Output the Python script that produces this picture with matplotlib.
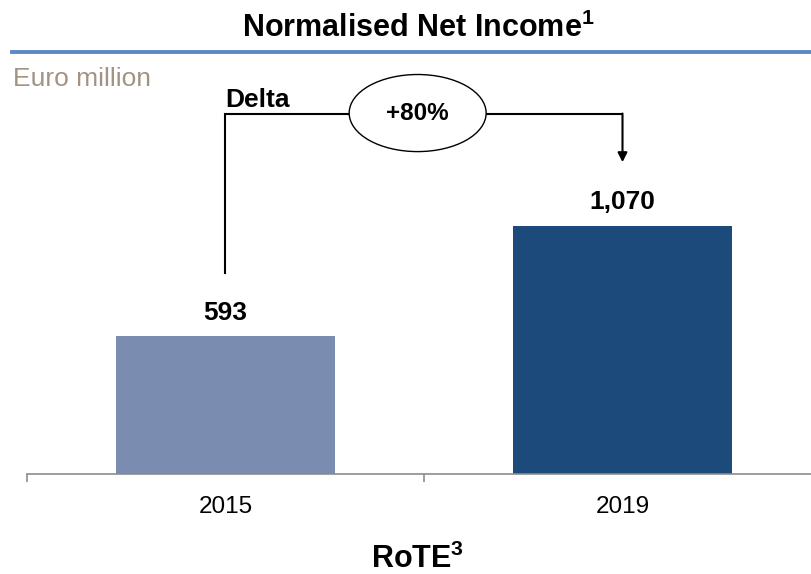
import matplotlib.pyplot as plt
from matplotlib.patches import Ellipse

plt.rcParams['font.family'] = ['Liberation Sans', 'DejaVu Sans']
plt.rcParams['mathtext.fontset'] = 'custom'
plt.rcParams['mathtext.rm'] = 'Liberation Sans'
plt.rcParams['mathtext.bf'] = 'Liberation Sans:bold'

# data
years = ['2015', '2019']
income = [593, 1070]
labels = ['593', '1,070']
delta_txt = '+80%'
bar_colors = ['#7a8cb0', '#1c4a7a']

fig = plt.figure(figsize=(8.12, 5.74), dpi=100)
ax = fig.add_axes([27 / 812, 1 - 473.5 / 574, 785 / 812, 413.5 / 574])

x = list(range(len(years)))
ax.bar(x, income, width=0.554, color=bar_colors, zorder=2)

for xi, v, lab in zip(x, income, labels):
    ax.annotate(lab, (xi, v), xytext=(0, 12), textcoords='offset points',
                ha='center', va='baseline', fontsize=19, fontweight='bold')

ax.set_xlim(-0.5, -0.5 + 785 / 397)
ax.set_ylim(0, 413.5 / 0.2315)

ax.set_xticks(x)
ax.set_xticklabels(years, fontsize=17.5)
ax.set_xticks([-0.5, 0.5], minor=True)
ax.tick_params(axis='x', which='major', length=0, pad=16)
ax.tick_params(axis='x', which='minor', length=6, width=1.2, color='#8c8c8c', direction='out')
ax.set_yticks([])
for s in ['top', 'right', 'left']:
    ax.spines[s].set_visible(False)
ax.spines['bottom'].set_color('#8c8c8c')
ax.spines['bottom'].set_linewidth(1.2)

# delta connector
gap = 275
top = 1551
ax.plot([x[0], x[0], x[1]], [income[0] + gap, top, top], color='black', lw=1.5,
        solid_joinstyle='miter', zorder=3)
ax.annotate('', xy=(x[1], income[1] + gap), xytext=(x[1], top + 4),
            arrowprops=dict(arrowstyle='-|>,head_length=0.55,head_width=0.28',
                            color='black', lw=1.5, shrinkA=0, shrinkB=0), zorder=3)
mid = (x[0] + x[1]) / 2 - 0.016
ax.add_patch(Ellipse((mid, top + 6), 0.345, 333, facecolor='white',
                     edgecolor='black', lw=1, zorder=4))
ax.text(mid, top + 6, delta_txt, ha='center', va='center', fontsize=17.5,
        fontweight='bold', zorder=5)
ax.text(x[0], top + 32, 'Delta', ha='left', va='baseline', fontsize=19,
        fontweight='bold', zorder=5)

# header and footer
fig.text(418 / 812, 1 - 37 / 574, r'Normalised Net Income$^{\mathbf{1}}$', ha='center',
         va='baseline', fontsize=22, fontweight='bold')
fig.add_artist(plt.Line2D([12 / 812, 1], [1 - 51.5 / 574] * 2, color='#5a8ac6', lw=2.8))
fig.text(13 / 812, 1 - 86 / 574, 'Euro million', ha='left', va='baseline',
         fontsize=19, color='#a39383')
fig.text(418 / 812, 1 - 568 / 574, r'RoTE$^{\mathbf{3}}$', ha='center', va='baseline',
         fontsize=22, fontweight='bold')

fig.savefig('out.png', dpi=100)
